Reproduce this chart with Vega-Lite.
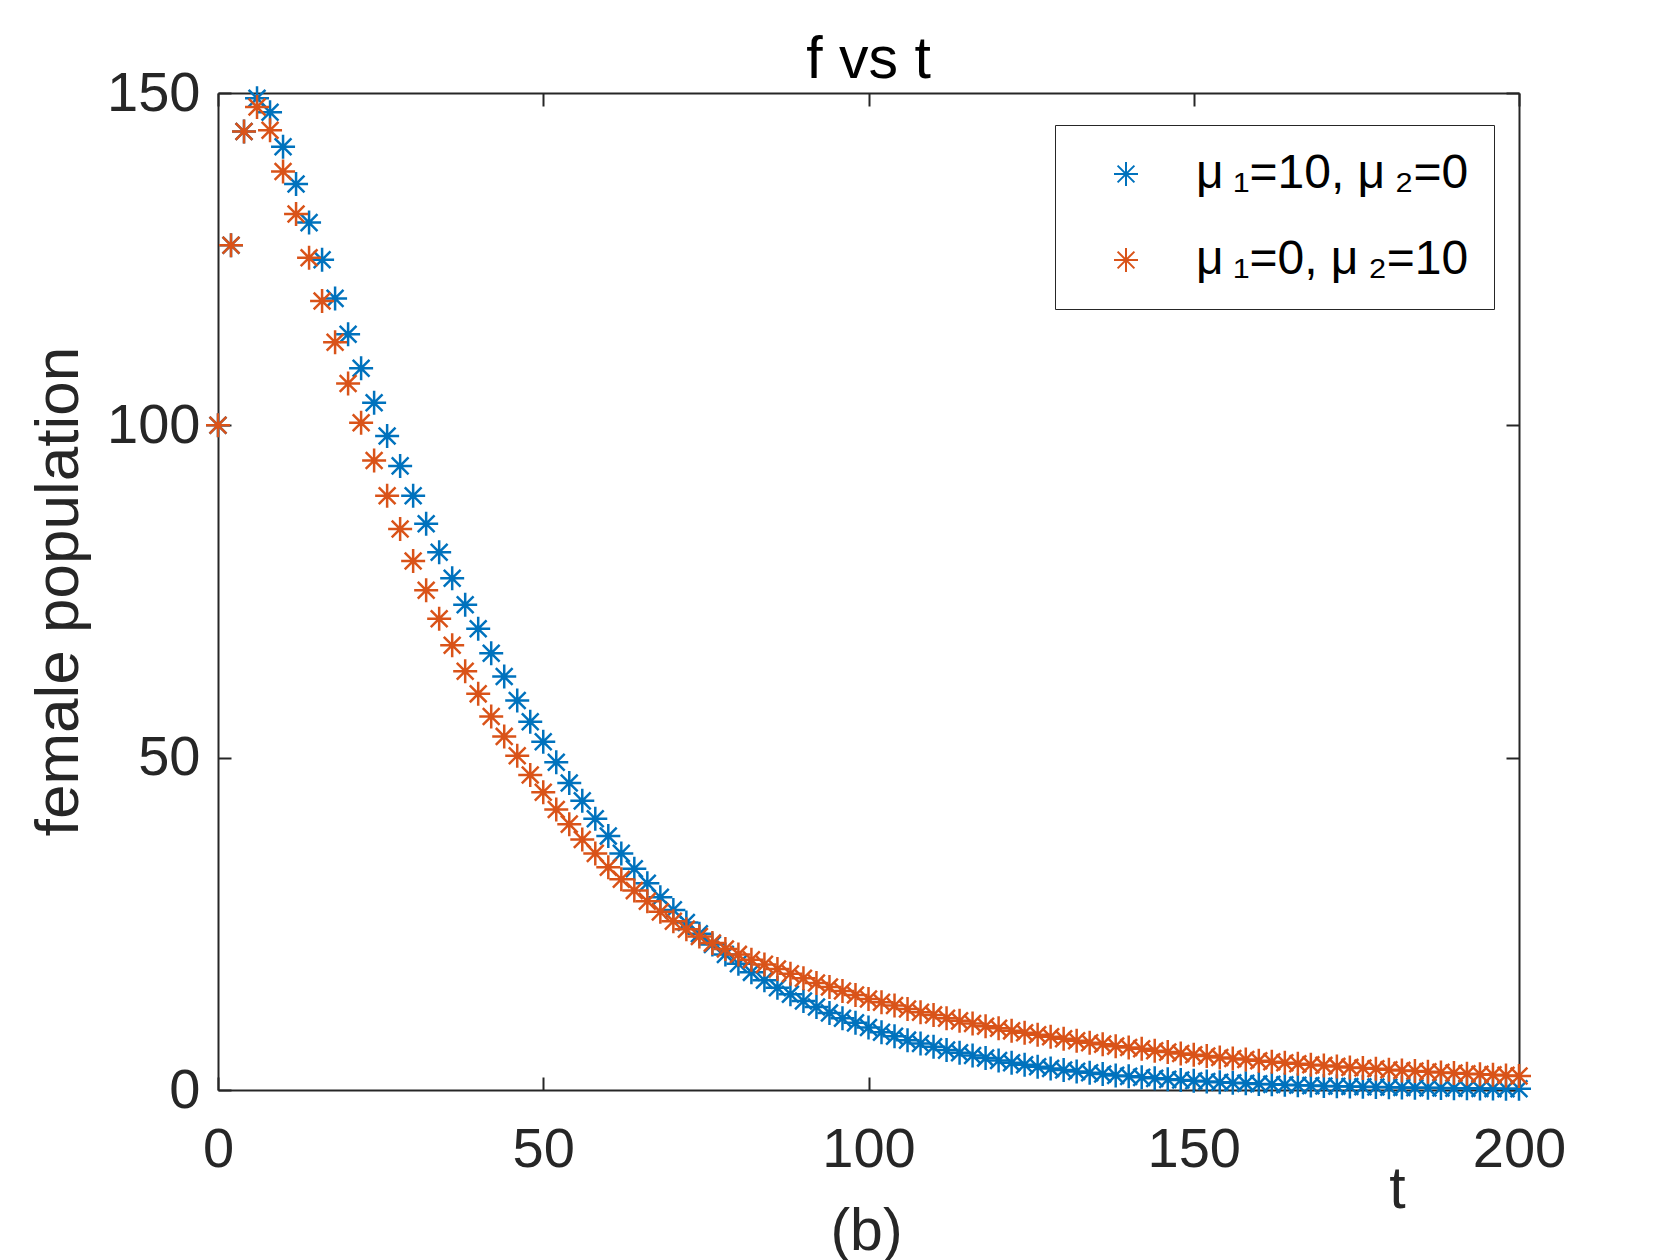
{
"$schema": "https://vega.github.io/schema/vega-lite/v6.json",
"width": 1301,
"height": 997,
"autosize": {"type": "none"},
"padding": {"left": 218, "top": 93, "right": 161, "bottom": 170},
"background": "white",
"title": {"text": "(b)", "orient": "bottom", "anchor": "middle", "fontSize": 59, "font": "Liberation Sans", "fontWeight": "normal", "color": "#262626", "offset": -16, "dx": -2},
"config": {"view": {"stroke": null}, "font": "Liberation Sans"},
"data": {"values": [
{"t":0,"f":100,"s":"A"},{"t":2,"f":127.1,"s":"A"},{"t":4,"f":144.2,"s":"A"},{"t":6,"f":149.2,"s":"A"},{"t":8,"f":147.1,"s":"A"},{"t":10,"f":141.9,"s":"A"},{"t":12,"f":136.3,"s":"A"},{"t":14,"f":130.5,"s":"A"},{"t":16,"f":124.9,"s":"A"},{"t":18,"f":119.1,"s":"A"},{"t":20,"f":113.7,"s":"A"},{"t":22,"f":108.6,"s":"A"},{"t":24,"f":103.4,"s":"A"},{"t":26,"f":98.4,"s":"A"},{"t":28,"f":93.9,"s":"A"},{"t":30,"f":89.4,"s":"A"},{"t":32,"f":85.2,"s":"A"},{"t":34,"f":80.9,"s":"A"},{"t":36,"f":77.0,"s":"A"},{"t":38,"f":73.0,"s":"A"},{"t":40,"f":69.4,"s":"A"},{"t":42,"f":65.7,"s":"A"},{"t":44,"f":62.2,"s":"A"},{"t":46,"f":58.6,"s":"A"},{"t":48,"f":55.4,"s":"A"},{"t":50,"f":52.4,"s":"A"},{"t":52,"f":49.3,"s":"A"},{"t":54,"f":46.2,"s":"A"},{"t":56,"f":43.5,"s":"A"},{"t":58,"f":40.8,"s":"A"},{"t":60,"f":38.2,"s":"A"},{"t":62,"f":35.6,"s":"A"},{"t":64,"f":33.3,"s":"A"},{"t":66,"f":31.1,"s":"A"},{"t":68,"f":29.0,"s":"A"},{"t":70,"f":27.1,"s":"A"},{"t":72,"f":25.2,"s":"A"},{"t":74,"f":23.5,"s":"A"},{"t":76,"f":21.9,"s":"A"},{"t":78,"f":20.4,"s":"A"},{"t":80,"f":19.0,"s":"A"},{"t":82,"f":17.7,"s":"A"},{"t":84,"f":16.5,"s":"A"},{"t":86,"f":15.4,"s":"A"},{"t":88,"f":14.4,"s":"A"},{"t":90,"f":13.4,"s":"A"},{"t":92,"f":12.5,"s":"A"},{"t":94,"f":11.6,"s":"A"},{"t":96,"f":10.8,"s":"A"},{"t":98,"f":10.1,"s":"A"},{"t":100,"f":9.4,"s":"A"},{"t":102,"f":8.7,"s":"A"},{"t":104,"f":8.1,"s":"A"},{"t":106,"f":7.5,"s":"A"},{"t":108,"f":7.0,"s":"A"},{"t":110,"f":6.5,"s":"A"},{"t":112,"f":6.0,"s":"A"},{"t":114,"f":5.6,"s":"A"},{"t":116,"f":5.2,"s":"A"},{"t":118,"f":4.8,"s":"A"},{"t":120,"f":4.45,"s":"A"},{"t":122,"f":4.1,"s":"A"},{"t":124,"f":3.8,"s":"A"},{"t":126,"f":3.5,"s":"A"},{"t":128,"f":3.25,"s":"A"},{"t":130,"f":3.0,"s":"A"},{"t":132,"f":2.8,"s":"A"},{"t":134,"f":2.6,"s":"A"},{"t":136,"f":2.4,"s":"A"},{"t":138,"f":2.2,"s":"A"},{"t":140,"f":2.05,"s":"A"},{"t":142,"f":1.9,"s":"A"},{"t":144,"f":1.75,"s":"A"},{"t":146,"f":1.6,"s":"A"},{"t":148,"f":1.5,"s":"A"},{"t":150,"f":1.38,"s":"A"},{"t":152,"f":1.27,"s":"A"},{"t":154,"f":1.17,"s":"A"},{"t":156,"f":1.08,"s":"A"},{"t":158,"f":1.0,"s":"A"},{"t":160,"f":0.92,"s":"A"},{"t":162,"f":0.85,"s":"A"},{"t":164,"f":0.78,"s":"A"},{"t":166,"f":0.72,"s":"A"},{"t":168,"f":0.66,"s":"A"},{"t":170,"f":0.61,"s":"A"},{"t":172,"f":0.56,"s":"A"},{"t":174,"f":0.52,"s":"A"},{"t":176,"f":0.48,"s":"A"},{"t":178,"f":0.44,"s":"A"},{"t":180,"f":0.41,"s":"A"},{"t":182,"f":0.38,"s":"A"},{"t":184,"f":0.35,"s":"A"},{"t":186,"f":0.32,"s":"A"},{"t":188,"f":0.3,"s":"A"},{"t":190,"f":0.27,"s":"A"},{"t":192,"f":0.25,"s":"A"},{"t":194,"f":0.23,"s":"A"},{"t":196,"f":0.21,"s":"A"},{"t":198,"f":0.2,"s":"A"},{"t":200,"f":0.18,"s":"A"},
{"t":0,"f":100,"s":"B"},{"t":2,"f":127.1,"s":"B"},{"t":4,"f":144.2,"s":"B"},{"t":6,"f":147.9,"s":"B"},{"t":8,"f":144.4,"s":"B"},{"t":10,"f":138.2,"s":"B"},{"t":12,"f":131.8,"s":"B"},{"t":14,"f":125.2,"s":"B"},{"t":16,"f":118.7,"s":"B"},{"t":18,"f":112.5,"s":"B"},{"t":20,"f":106.3,"s":"B"},{"t":22,"f":100.4,"s":"B"},{"t":24,"f":94.7,"s":"B"},{"t":26,"f":89.4,"s":"B"},{"t":28,"f":84.4,"s":"B"},{"t":30,"f":79.6,"s":"B"},{"t":32,"f":75.2,"s":"B"},{"t":34,"f":70.9,"s":"B"},{"t":36,"f":66.9,"s":"B"},{"t":38,"f":63.0,"s":"B"},{"t":40,"f":59.6,"s":"B"},{"t":42,"f":56.2,"s":"B"},{"t":44,"f":53.2,"s":"B"},{"t":46,"f":50.3,"s":"B"},{"t":48,"f":47.4,"s":"B"},{"t":50,"f":44.8,"s":"B"},{"t":52,"f":42.2,"s":"B"},{"t":54,"f":40.0,"s":"B"},{"t":56,"f":37.7,"s":"B"},{"t":58,"f":35.6,"s":"B"},{"t":60,"f":33.5,"s":"B"},{"t":62,"f":31.7,"s":"B"},{"t":64,"f":30.0,"s":"B"},{"t":66,"f":28.4,"s":"B"},{"t":68,"f":26.8,"s":"B"},{"t":70,"f":25.4,"s":"B"},{"t":72,"f":24.2,"s":"B"},{"t":74,"f":23.1,"s":"B"},{"t":76,"f":22.1,"s":"B"},{"t":78,"f":21.2,"s":"B"},{"t":80,"f":20.4,"s":"B"},{"t":82,"f":19.6,"s":"B"},{"t":84,"f":18.9,"s":"B"},{"t":86,"f":18.2,"s":"B"},{"t":88,"f":17.5,"s":"B"},{"t":90,"f":16.8,"s":"B"},{"t":92,"f":16.1,"s":"B"},{"t":94,"f":15.5,"s":"B"},{"t":96,"f":14.9,"s":"B"},{"t":98,"f":14.3,"s":"B"},{"t":100,"f":13.7,"s":"B"},{"t":102,"f":13.2,"s":"B"},{"t":104,"f":12.7,"s":"B"},{"t":106,"f":12.2,"s":"B"},{"t":108,"f":11.7,"s":"B"},{"t":110,"f":11.3,"s":"B"},{"t":112,"f":10.8,"s":"B"},{"t":114,"f":10.4,"s":"B"},{"t":116,"f":10.0,"s":"B"},{"t":118,"f":9.6,"s":"B"},{"t":120,"f":9.3,"s":"B"},{"t":122,"f":8.9,"s":"B"},{"t":124,"f":8.6,"s":"B"},{"t":126,"f":8.3,"s":"B"},{"t":128,"f":8.0,"s":"B"},{"t":130,"f":7.7,"s":"B"},{"t":132,"f":7.4,"s":"B"},{"t":134,"f":7.1,"s":"B"},{"t":136,"f":6.9,"s":"B"},{"t":138,"f":6.6,"s":"B"},{"t":140,"f":6.4,"s":"B"},{"t":142,"f":6.2,"s":"B"},{"t":144,"f":5.9,"s":"B"},{"t":146,"f":5.7,"s":"B"},{"t":148,"f":5.5,"s":"B"},{"t":150,"f":5.3,"s":"B"},{"t":152,"f":5.1,"s":"B"},{"t":154,"f":4.9,"s":"B"},{"t":156,"f":4.75,"s":"B"},{"t":158,"f":4.6,"s":"B"},{"t":160,"f":4.4,"s":"B"},{"t":162,"f":4.25,"s":"B"},{"t":164,"f":4.1,"s":"B"},{"t":166,"f":3.95,"s":"B"},{"t":168,"f":3.8,"s":"B"},{"t":170,"f":3.7,"s":"B"},{"t":172,"f":3.55,"s":"B"},{"t":174,"f":3.4,"s":"B"},{"t":176,"f":3.3,"s":"B"},{"t":178,"f":3.2,"s":"B"},{"t":180,"f":3.05,"s":"B"},{"t":182,"f":2.95,"s":"B"},{"t":184,"f":2.85,"s":"B"},{"t":186,"f":2.75,"s":"B"},{"t":188,"f":2.65,"s":"B"},{"t":190,"f":2.55,"s":"B"},{"t":192,"f":2.45,"s":"B"},{"t":194,"f":2.37,"s":"B"},{"t":196,"f":2.28,"s":"B"},{"t":198,"f":2.2,"s":"B"},{"t":200,"f":2.12,"s":"B"}
]},
"layer": [
{
"mark": {"type": "point", "shape": "M-1,0L1,0M0,-1L0,1M-0.7,-0.7L0.7,0.7M-0.7,0.7L0.7,-0.7", "filled": false, "size": 576, "strokeWidth": 2.5, "opacity": 1},
"encoding": {
"x": {"field": "t", "type": "quantitative", "scale": {"domain": [0, 200], "nice": false},
"axis": {"orient": "bottom", "values": [0, 50, 100, 150, 200], "grid": false, "tickSize": -13, "tickWidth": 2, "tickColor": "#262626", "domainColor": "#262626", "domainWidth": 2, "labelFontSize": 56, "labelColor": "#262626", "labelPadding": 45, "labelFlush": false, "labelFont": "Liberation Sans", "title": "t", "titleFont": "Liberation Sans", "titleFontSize": 59, "titleFontWeight": "normal", "titleColor": "#262626", "titleX": 1179, "titleY": 117, "titleBaseline": "alphabetic", "titleAlign": "center"}},
"y": {"field": "f", "type": "quantitative", "scale": {"domain": [0, 150], "nice": false},
"axis": {"orient": "left", "values": [0, 50, 100, 150], "grid": false, "tickSize": -13, "tickWidth": 2, "tickColor": "#262626", "domainColor": "#262626", "domainWidth": 2, "labelFontSize": 56, "labelColor": "#262626", "labelPadding": 31, "labelFlush": false, "labelFont": "Liberation Sans", "title": "female population", "titleFont": "Liberation Sans", "titleFontSize": 62, "titleFontWeight": "normal", "titleColor": "#262626", "titleX": -141, "titleY": 498, "titleBaseline": "alphabetic", "titleAlign": "center", "titleAngle": -90}},
"color": {"field": "s", "type": "nominal", "scale": {"domain": ["A", "B"], "range": ["#0072BD", "#D95319"]},
"legend": {"title": null, "orient": "none", "legendX": 837, "legendY": 32, "strokeColor": "#262626", "fillColor": "white", "padding": 25, "symbolOffset": 22, "symbolType": "M-1,0L1,0M0,-1L0,1M-0.7,-0.7L0.7,0.7M-0.7,0.7L0.7,-0.7", "symbolSize": 576, "symbolStrokeWidth": 2, "symbolFillColor": "transparent", "labelFontSize": 48, "labelFont": "Liberation Sans", "labelColor": "#000000", "labelOffset": 46, "rowPadding": 38, "labelLimit": 600,
"labelExpr": "datum.label == 'A' ? 'μ\u2009₁=10, μ\u2009₂=0' : 'μ\u2009₁=0, μ\u2009₂=10'"}}
}
},
{
"mark": {"type": "point", "opacity": 0},
"encoding": {
"x": {"field": "t", "type": "quantitative", "axis": {"orient": "top", "values": [0, 50, 100, 150, 200], "labels": false, "grid": false, "tickSize": -13, "tickWidth": 2, "tickColor": "#262626", "domainColor": "#262626", "domainWidth": 2, "title": "f vs t", "titleFont": "Liberation Sans", "titleFontSize": 59, "titleFontWeight": "normal", "titleColor": "#000000", "titleX": 650, "titleY": -16, "titleBaseline": "alphabetic", "titleAlign": "center"}},
"y": {"field": "f", "type": "quantitative", "axis": {"orient": "right", "values": [0, 50, 100, 150], "labels": false, "grid": false, "tickSize": -13, "tickWidth": 2, "tickColor": "#262626", "domainColor": "#262626", "domainWidth": 2, "title": null}}
}
}
],
"resolve": {"axis": {"x": "independent", "y": "independent"}}
}
